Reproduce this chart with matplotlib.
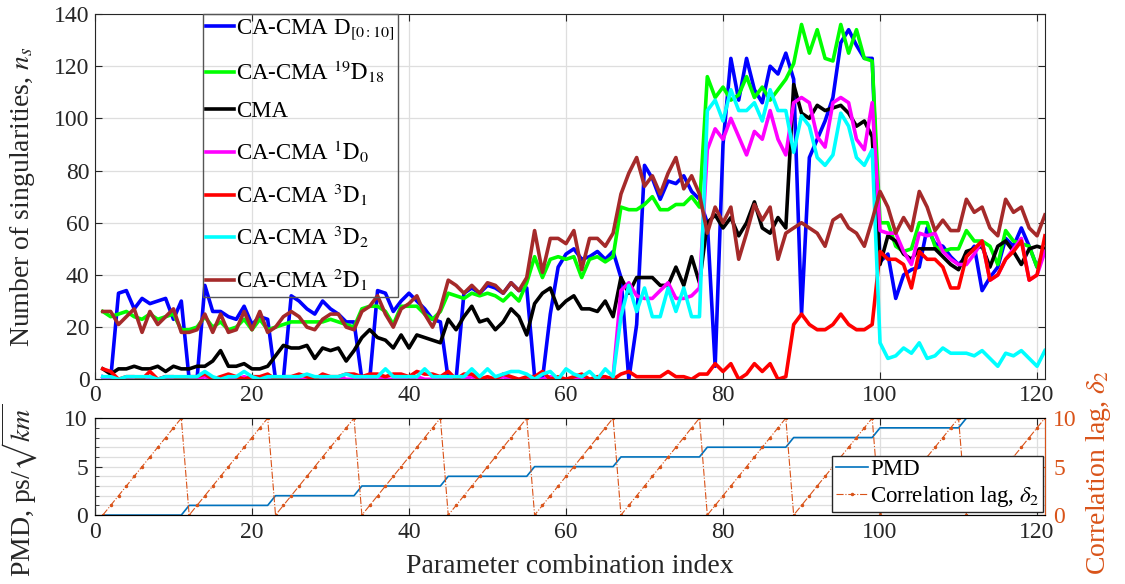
import matplotlib
matplotlib.use('Agg')
import matplotlib.pyplot as plt
from matplotlib.ticker import MultipleLocator

plt.rcParams['font.family'] = 'Liberation Serif'
plt.rcParams['mathtext.fontset'] = 'stix'

# parameter combination index 1..121
idx = list(range(1, 122))

# number of singularities per method (11 values per row)
d_0_10 = [
    1, 0, 33, 34, 27, 31, 29, 30, 31, 23, 30,
    0, 0, 36, 26, 26, 24, 23, 28, 21, 24, 23,
    0, 0, 32, 30, 27, 25, 30, 27, 25, 22, 22,
    0, 0, 34, 33, 26, 30, 33, 30, 27, 23, 22,
    0, 0, 33, 35, 33, 36, 35, 33, 37, 34, 35,
    1, 0, 25, 43, 48, 50, 46, 47, 49, 46, 49,
    39, 0, 21, 82, 77, 69, 76, 75, 78, 72, 69,
    60, 5, 90, 123, 107, 123, 111, 106, 120, 117, 125,
    115, 25, 85, 92, 99, 108, 129, 134, 128, 123, 123,
    45, 48, 31, 40, 42, 43, 58, 52, 51, 47, 44,
    47, 51, 34, 39, 43, 54, 51, 58, 51, 43, 50]
d_19_18 = [
    26, 24, 25, 26, 24, 23, 25, 23, 24, 25, 19,
    19, 20, 24, 20, 22, 19, 20, 23, 19, 23, 19,
    20, 21, 22, 22, 22, 22, 22, 23, 22, 21, 20,
    27, 28, 28, 26, 21, 28, 28, 28, 25, 23, 26,
    33, 32, 31, 33, 32, 33, 32, 30, 33, 30, 37,
    47, 39, 46, 47, 46, 47, 39, 46, 47, 45, 47,
    66, 65, 65, 67, 70, 65, 65, 67, 67, 70, 66,
    116, 108, 112, 107, 109, 116, 108, 112, 107, 111, 115,
    121, 136, 125, 134, 123, 122, 136, 125, 134, 123, 122,
    60, 60, 51, 49, 50, 60, 60, 51, 49, 50, 50,
    57, 53, 53, 51, 44, 57, 53, 52, 51, 43, 50]
cma = [
    4, 2, 4, 4, 5, 4, 4, 5, 3, 5, 4,
    4, 5, 5, 7, 11, 5, 5, 6, 4, 4, 5,
    9, 13, 12, 12, 13, 8, 12, 11, 12, 7, 11,
    16, 19, 16, 15, 12, 17, 12, 17, 16, 15, 14,
    23, 19, 24, 28, 22, 23, 19, 22, 27, 24, 17,
    29, 33, 35, 27, 30, 32, 27, 27, 26, 30, 24,
    39, 33, 39, 39, 39, 36, 36, 43, 36, 47, 37,
    60, 63, 58, 62, 55, 60, 68, 58, 56, 62, 58,
    113, 102, 100, 105, 103, 104, 105, 102, 97, 99, 93,
    44, 55, 53, 48, 46, 50, 50, 50, 47, 44, 42,
    49, 50, 51, 43, 51, 53, 49, 44, 50, 51, 50]
d_1_0 = [
    0, 0, 0, 0, 1, 0, 0, 0, 1, 0, 0,
    0, 0, 1, 0, 0, 0, 0, 1, 0, 0, 0,
    0, 0, 1, 0, 0, 0, 0, 0, 1, 0, 0,
    0, 0, 1, 0, 0, 0, 0, 1, 0, 0, 0,
    0, 0, 0, 1, 0, 0, 0, 1, 0, 0, 0,
    0, 0, 1, 0, 0, 0, 1, 0, 0, 0, 1,
    34, 37, 32, 31, 31, 34, 37, 31, 31, 32, 35,
    88, 96, 92, 100, 93, 86, 95, 92, 103, 92, 86,
    106, 108, 106, 93, 89, 106, 108, 106, 92, 88, 106,
    57, 56, 56, 49, 44, 56, 55, 56, 49, 46, 44,
    44, 48, 53, 38, 40, 46, 50, 54, 38, 40, 49]
d_3_1 = [
    4, 3, 0, 1, 1, 0, 3, 0, 1, 1, 0,
    1, 1, 2, 0, 1, 2, 1, 0, 1, 1, 2,
    0, 1, 1, 2, 1, 0, 2, 1, 1, 2, 2,
    1, 2, 2, 1, 2, 2, 1, 3, 2, 2, 1,
    3, 0, 2, 2, 0, 1, 0, 2, 1, 0, 1,
    1, 3, 0, 1, 0, 1, 2, 0, 1, 1, 0,
    2, 3, 1, 1, 1, 1, 3, 1, 1, 0, 2,
    2, 6, 3, 6, 0, 2, 6, 3, 6, 0, 1,
    21, 25, 21, 19, 19, 21, 25, 21, 19, 19, 21,
    49, 46, 46, 44, 35, 49, 46, 46, 43, 35, 35,
    47, 50, 53, 38, 40, 46, 49, 53, 38, 40, 55]
d_3_2 = [
    1, 1, 0, 1, 1, 1, 1, 0, 1, 1, 1,
    1, 1, 3, 1, 0, 1, 1, 3, 1, 0, 1,
    1, 1, 1, 1, 2, 1, 1, 1, 1, 2, 1,
    1, 1, 1, 4, 1, 1, 1, 1, 4, 1, 1,
    1, 1, 1, 4, 1, 4, 1, 2, 3, 3, 2,
    0, 2, 3, 0, 4, 2, 1, 3, 0, 4, 1,
    24, 36, 26, 35, 24, 24, 35, 26, 35, 24, 24,
    103, 107, 99, 111, 103, 103, 106, 99, 111, 103, 103,
    87, 101, 97, 85, 82, 86, 102, 97, 85, 82, 88,
    14, 8, 9, 12, 10, 14, 8, 9, 12, 10, 10,
    10, 9, 11, 8, 5, 10, 9, 11, 8, 5, 11]
d_2_1 = [
    26, 26, 21, 24, 27, 18, 26, 21, 24, 27, 18,
    18, 19, 25, 18, 25, 18, 19, 26, 19, 26, 18,
    20, 24, 26, 24, 20, 19, 23, 25, 25, 20, 19,
    26, 28, 32, 25, 20, 27, 29, 32, 25, 20, 27,
    38, 36, 33, 36, 33, 37, 36, 33, 37, 34, 39,
    57, 41, 54, 54, 52, 57, 42, 54, 54, 51, 56,
    71, 79, 85, 74, 78, 71, 79, 85, 73, 78, 71,
    56, 66, 60, 66, 46, 56, 67, 61, 66, 46, 56,
    58, 60, 58, 56, 51, 61, 63, 58, 56, 51, 61,
    72, 66, 56, 62, 57, 72, 66, 57, 61, 57, 57,
    69, 64, 66, 58, 55, 69, 64, 66, 58, 55, 63]

# lower panel: PMD value and correlation lag for each index
pmd = [
    0, 0, 0, 0, 0, 0, 0, 0, 0, 0, 0,
    1, 1, 1, 1, 1, 1, 1, 1, 1, 1, 1,
    2, 2, 2, 2, 2, 2, 2, 2, 2, 2, 2,
    3, 3, 3, 3, 3, 3, 3, 3, 3, 3, 3,
    4, 4, 4, 4, 4, 4, 4, 4, 4, 4, 4,
    5, 5, 5, 5, 5, 5, 5, 5, 5, 5, 5,
    6, 6, 6, 6, 6, 6, 6, 6, 6, 6, 6,
    7, 7, 7, 7, 7, 7, 7, 7, 7, 7, 7,
    8, 8, 8, 8, 8, 8, 8, 8, 8, 8, 8,
    9, 9, 9, 9, 9, 9, 9, 9, 9, 9, 9,
    10, 10, 10, 10, 10, 10, 10, 10, 10, 10, 10]
lag = [
    0, 1, 2, 3, 4, 5, 6, 7, 8, 9, 10,
    0, 1, 2, 3, 4, 5, 6, 7, 8, 9, 10,
    0, 1, 2, 3, 4, 5, 6, 7, 8, 9, 10,
    0, 1, 2, 3, 4, 5, 6, 7, 8, 9, 10,
    0, 1, 2, 3, 4, 5, 6, 7, 8, 9, 10,
    0, 1, 2, 3, 4, 5, 6, 7, 8, 9, 10,
    0, 1, 2, 3, 4, 5, 6, 7, 8, 9, 10,
    0, 1, 2, 3, 4, 5, 6, 7, 8, 9, 10,
    0, 1, 2, 3, 4, 5, 6, 7, 8, 9, 10,
    0, 1, 2, 3, 4, 5, 6, 7, 8, 9, 10,
    0, 1, 2, 3, 4, 5, 6, 7, 8, 9, 10]

series = [
    (d_0_10, 'blue', r'CA-CMA D$_{\mathrm{[0:10]}}$'),
    (d_19_18, '#00ff00', r'CA-CMA $^{19}\mathrm{D}_{18}$'),
    (cma, 'black', 'CMA'),
    (d_1_0, 'magenta', r'CA-CMA $^{1}\mathrm{D}_{0}$'),
    (d_3_1, 'red', r'CA-CMA $^{3}\mathrm{D}_{1}$'),
    (d_3_2, 'cyan', r'CA-CMA $^{3}\mathrm{D}_{2}$'),
    (d_2_1, '#a52a2a', r'CA-CMA $^{2}\mathrm{D}_{1}$'),
]

axc = '#262626'
gridc = '#dedede'
orange = '#D95319'
pblue = '#0072BD'
tick_fs = 17
label_fs = 20

fig = plt.figure(figsize=(11.25, 5.84), dpi=100)
ax1 = fig.add_axes([0.0844, 0.3505, 0.8444, 0.6255])
ax2 = fig.add_axes([0.0844, 0.118, 0.8444, 0.166])
ax2r = ax2.twinx()

# top panel
for vals, c, lab in series:
    ax1.plot(idx, vals, color=c, lw=2.6, label=lab)
ax1.set_xlim(0, 121)
ax1.set_ylim(0, 140)
ax1.set_xticks(range(0, 121, 20))
ax1.set_yticks(range(0, 141, 20))
ax1.grid(True, color=gridc, lw=0.9)
ax1.set_axisbelow(True)
ax1.tick_params(direction='in', top=True, right=True, labelsize=tick_fs,
                colors=axc, length=5, pad=4)
for s in ax1.spines.values():
    s.set_color(axc)
ax1.set_ylabel('Number of singularities, $n_s$', fontsize=label_fs, color=axc)
ax1.yaxis.set_label_coords(-0.061, 0.5)
leg = ax1.legend(loc='upper left', bbox_to_anchor=(0.1137, 1.0), fontsize=16.5,
                 handlelength=1.2, handletextpad=0.08, labelspacing=0.72,
                 borderpad=0.15, borderaxespad=0, fancybox=False, framealpha=1,
                 edgecolor='#555555')
leg.get_frame().set_facecolor('none')
leg.get_frame().set_linewidth(1.0)

# bottom panel
l1, = ax2.plot(idx, pmd, color=pblue, lw=1.2, label='PMD')
l2, = ax2r.plot(idx, lag, color=orange, lw=0.8, ls='-.', marker='.',
                markersize=3, label=r'Correlation lag, $\delta_2$')
ax2.set_xlim(0, 121)
ax2.set_ylim(0, 10)
ax2r.set_ylim(0, 10)
ax2.set_xticks(range(0, 121, 20))
ax2.set_yticks([0, 5, 10])
ax2.yaxis.set_minor_locator(MultipleLocator(1))
ax2r.set_yticks([0, 5, 10])
ax2.grid(True, which='major', color=gridc, lw=0.9)
ax2.grid(True, which='minor', axis='y', color=gridc, lw=0.9)
ax2.set_axisbelow(True)
ax2.tick_params(direction='in', top=True, labelsize=tick_fs, colors=axc,
                length=5, pad=5)
ax2.tick_params(which='minor', direction='in', left=True, length=3, colors=axc)
ax2r.tick_params(direction='in', labelsize=tick_fs, colors=orange, length=5,
                 pad=6)
for s in ax2.spines.values():
    s.set_color(axc)
ax2r.spines['right'].set_color(orange)
ax2r.spines['left'].set_color(axc)
ax2.set_ylabel(r'PMD, ps/$\sqrt{km}$', fontsize=label_fs, color=axc)
ax2.yaxis.set_label_coords(-0.058, 0.26)
ax2r.set_ylabel(r'Correlation lag, $\delta_2$', fontsize=label_fs,
                color=orange)
ax2r.yaxis.set_label_coords(1.041, 0.44)
ax2.set_xlabel('Parameter combination index', fontsize=label_fs, color=axc)
ax2.xaxis.set_label_coords(0.5, -0.4)
leg2 = ax2r.legend(handles=[l1, l2], loc='lower right',
                   bbox_to_anchor=(0.998, 0.03), fontsize=16.5,
                   handlelength=1.4, handletextpad=0.1, labelspacing=0.15,
                   borderpad=0.15, borderaxespad=0, fancybox=False,
                   framealpha=1, edgecolor=axc)
leg2.get_frame().set_linewidth(1.0)

fig.savefig('out.png', dpi=100)
